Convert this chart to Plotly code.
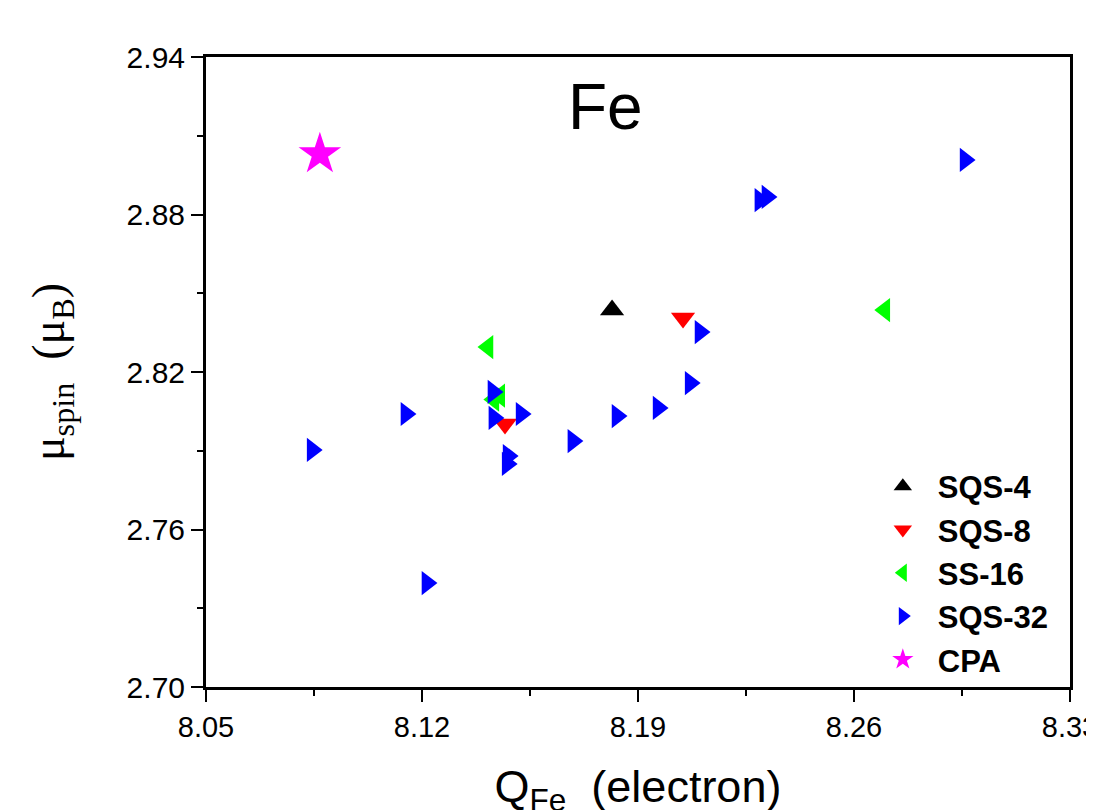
import plotly.graph_objects as go

# ---- data ----
sqs4_x = [8.1816]
sqs4_y = [2.8436]

sqs8_x = [8.2046, 8.1469]
sqs8_y = [2.8406, 2.8002]

ss16_x = [8.1414, 8.1433, 8.1452, 8.2700]
ss16_y = [2.8295, 2.8095, 2.8110, 2.8436]

sqs32_x = [8.0844, 8.1148, 8.1216, 8.1430, 8.1433, 8.1521, 8.1479, 8.1476,
           8.1689, 8.1832, 8.1965, 8.2069, 8.2101, 8.2295, 8.2318, 8.2960]
sqs32_y = [2.7903, 2.8040, 2.7396, 2.8124, 2.8025, 2.8040, 2.7880, 2.7850,
           2.7937, 2.8032, 2.8063, 2.8158, 2.8352, 2.8855, 2.8867, 2.9008]

cpa_x = [8.0869]
cpa_y = [2.9030]

x_ticks = [8.05, 8.12, 8.19, 8.26, 8.33]
y_ticks = [2.70, 2.76, 2.82, 2.88, 2.94]

fig = go.Figure()

series = [
    ("SQS-4", sqs4_x, sqs4_y, "triangle-up", "#000000", 21),
    ("SQS-8", sqs8_x, sqs8_y, "triangle-down", "#ff0000", 21),
    ("SS-16", ss16_x, ss16_y, "triangle-left", "#00ff00", 21),
    ("SQS-32", sqs32_x, sqs32_y, "triangle-right", "#0000ff", 21),
    ("CPA", cpa_x, cpa_y, "star", "#ff00ff", 32),
]
for name, xs, ys, sym, col, sz in series:
    fig.add_trace(go.Scatter(
        x=xs, y=ys, mode="markers", name=name,
        marker=dict(symbol=sym, color=col, size=sz, line=dict(width=0)),
    ))

axis_common = dict(
    showgrid=False, zeroline=False,
    showline=True, linecolor="black", linewidth=3, mirror=True,
    ticks="outside", tickcolor="black", tickwidth=2, ticklen=12,
    ticklabeloverflow="allow", automargin=False,
)

fig.update_xaxes(
    range=[8.05, 8.33001], tickvals=x_ticks,
    ticktext=[f"{v:.2f}" for v in x_ticks],
    tickfont=dict(family="Liberation Sans, Arial", size=29, color="black"),
    minor=dict(ticks="outside", dtick=0.035, tick0=8.05, ticklen=6, tickwidth=2, tickcolor="black"),
    title=dict(text="Q<sub>Fe</sub>  (electron)",
               font=dict(family="Liberation Sans, Arial", size=45, color="black"),
               standoff=34),
    **axis_common,
)
fig.update_yaxes(
    range=[2.70, 2.94], tickvals=y_ticks,
    ticktext=[f"{v:.2f}" for v in y_ticks],
    tickfont=dict(family="Liberation Sans, Arial", size=30, color="black"),
    minor=dict(ticks="outside", dtick=0.03, tick0=2.70, ticklen=6, tickwidth=2, tickcolor="black"),
    title=dict(text="μ<sub>spin</sub>  (μ<sub>B</sub>)",
               font=dict(family="Liberation Serif, Times New Roman, serif", size=46, color="black"),
               standoff=48),
    **axis_common,
)

fig.add_annotation(
    text="Fe", x=0.462, y=2.921, xref="paper", yref="y",
    showarrow=False, xanchor="center", yanchor="middle",
    font=dict(family="Liberation Sans, Arial", size=64, color="black"),
)

fig.update_layout(
    width=1094, height=810,
    margin=dict(l=198, r=32, t=49, b=131, autoexpand=False),
    paper_bgcolor="white", plot_bgcolor="white",
    showlegend=True,
    legend=dict(
        x=0.766, y=0.361, xanchor="left", yanchor="top",
        bgcolor="rgba(0,0,0,0)", borderwidth=0,
        font=dict(family="Liberation Sans, Arial", size=31, color="black", weight="bold"),
        tracegroupgap=0, itemsizing="trace", itemwidth=60,
    ),
)

fig.write_html("out.html")
